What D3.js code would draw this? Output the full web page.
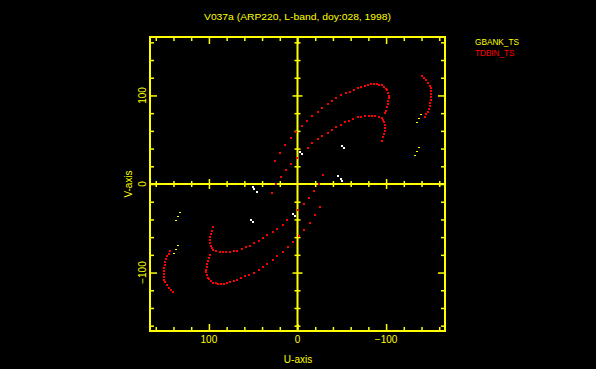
<!DOCTYPE html>
<html><head><meta charset="utf-8">
<script src="https://cdn.jsdelivr.net/npm/d3@7"></script>
<style>html,body{margin:0;padding:0;background:#000;}svg{display:block;}</style>
</head><body>
<svg id="c" width="596" height="369"></svg>
<script>
// ---------- DATA (u, v in kilo-wavelengths; conjugate points (-u,-v) are also plotted) ----------
const titleText = "V037a (ARP220, L-band, doy:028, 1998)";
const xLabel = "U-axis";
const yLabel = "V-axis";
const seriesNames = ["GBANK_TS", "TDBIN_TS"];
const majorTicks = [-100, 0, 100];
const majorTickLabels = ["\u2212100", "0", "100"];
const minorTicks = [-160,-140,-120,-100,-80,-60,-40,-20,0,20,40,60,80,100,120,140,160];

// TDBIN_TS track A (outer arc)
const tdbinTrackA = [
  [24.9,26.3],[20.1,35.3],[14.1,44.0],[7.6,51.6],[1.2,59.1],[-4.8,65.5],[-10.5,70.8],
  [-16.9,76.8],[-22.6,81.6],[-28.2,86.2],[-34.2,90.3],[-39.5,93.7],[-44.0,96.8],
  [-49.2,100.2],[-54.6,102.4],[-59.1,104.2],[-63.6,106.5],[-68.1,108.1],[-71.9,109.5],
  [-75.7,111.0],[-79.4,112.1],[-83.2,112.6],[-86.6,112.6],[-89.6,112.6],[-92.4,112.1],
  [-95.3,111.5],[-97.5,109.9],[-99.8,107.8],[-101.3,105.6],[-102.4,102.8],[-103.2,99.9],
  [-103.2,96.6],[-102.6,93.2],[-101.7,89.8],[-100.9,86.4],[-99.8,83.0],[-98.7,80.2]
];
// TDBIN_TS track B (inner arc)
const tdbinTrackB = [
  [-29.1,9.6],[-24.4,0.0],
  [18.9,7.6],[12.5,15.5],[6.8,22.6],[0.5,29.0],[-11.6,41.0],[-16.9,46.0],[-23.2,50.5],
  [-28.2,54.2],[-34.2,57.9],[-39.5,61.0],[-44.0,64.7],[-48.9,67.0],[-53.8,69.7],
  [-58.3,71.7],[-62.8,73.4],[-67.8,75.1],[-71.9,76.0],[-76.4,76.8],[-80.2,77.1],
  [-84.0,77.1],[-87.9,77.0],[-92.2,76.0],[-94.9,74.2],[-96.7,71.9],[-97.9,69.5],
  [-98.7,66.6],[-98.7,62.9],[-98.3,59.9],[-97.5,56.5],[-96.7,52.7],[-95.6,48.9]
];
// TDBIN_TS track C (far arc)
const tdbinTrackC = [
  [-140.8,122.0],[-143.3,119.7],[-145.6,117.1],[-147.6,114.4],[-149.2,111.2],
  [-150.3,108.1],[-151.0,104.8],[-151.0,101.6],[-151.0,98.2],[-150.7,94.9],
  [-149.9,91.5],[-149.2,87.9],[-148.2,84.7],[-146.9,81.6],[-145.6,78.7],[-143.9,75.7]
];
// GBANK_TS points
const gbankPoints = [
  [-139.0,78.7],[-137.1,73.7],[-134.5,69.7],[-137.4,41.0],[-134.8,36.9],[-132.2,32.7]
];
// unlabelled (white) points
const otherPoints = [
  [-2.5,36.7],[-4.8,34.4],[-50.6,43.3],[-52.9,40.7],[-46.1,8.7],[-48.6,6.2],[-50.4,3.7]
];

// ---------- CHART ----------
const svg = d3.select("#c");
svg.append("rect").attr("width",596).attr("height",369).attr("fill","#000");

const YEL = "#ffff00", RED = "#ff0000", WHITE = "#ffffff";
const pL = 150, pR = 445, pT = 37, pB = 331;
const x = d3.scaleLinear().domain([166.5, -166.5]).range([pL, pR]);
const y = d3.scaleLinear().domain([-166, 166]).range([pB, pT]);

const conj = pts => pts.concat(pts.map(([u, v]) => [-u, -v]));

const g = svg.append("g");

function styleAxis(sel) {
  sel.selectAll("path.domain").remove();
  sel.selectAll(".tick text").remove();
  sel.selectAll(".tick line").attr("stroke", YEL).attr("stroke-width", 1.5);
}
const minorOnly = minorTicks.filter(t => majorTicks.indexOf(t) < 0);

// frame ticks (inward)
const frame = [
  {ax: d3.axisTop, tr: `translate(0,${pB})`, s: x},
  {ax: d3.axisBottom, tr: `translate(0,${pT})`, s: x},
  {ax: d3.axisRight, tr: `translate(${pL},0)`, s: y},
  {ax: d3.axisLeft, tr: `translate(${pR},0)`, s: y}
];
frame.forEach(f => {
  g.append("g").attr("transform", f.tr)
    .call(f.ax(f.s).tickValues(minorOnly).tickSize(4).tickSizeOuter(0))
    .call(styleAxis);
  g.append("g").attr("transform", f.tr)
    .call(f.ax(f.s).tickValues(majorTicks).tickSize(7).tickSizeOuter(0))
    .call(styleAxis);
});

// central axes with centred ticks
g.append("line").attr("x1", pL).attr("x2", pR).attr("y1", y(0)).attr("y2", y(0))
  .attr("stroke", YEL).attr("stroke-width", 2);
g.append("line").attr("x1", x(0)).attr("x2", x(0)).attr("y1", pT).attr("y2", pB)
  .attr("stroke", YEL).attr("stroke-width", 2);
g.append("g").attr("transform", `translate(0,${y(0) - 3})`)
  .call(d3.axisBottom(x).tickValues(minorOnly).tickSize(6)).call(styleAxis);
g.append("g").attr("transform", `translate(0,${y(0) - 5})`)
  .call(d3.axisBottom(x).tickValues(majorTicks.filter(t => t !== 0)).tickSize(10)).call(styleAxis);
g.append("g").attr("transform", `translate(${x(0) - 3},0)`)
  .call(d3.axisRight(y).tickValues(minorOnly).tickSize(6)).call(styleAxis);
g.append("g").attr("transform", `translate(${x(0) - 5},0)`)
  .call(d3.axisRight(y).tickValues(majorTicks.filter(t => t !== 0)).tickSize(10)).call(styleAxis);

// frame box
g.append("rect").attr("x", pL).attr("y", pT).attr("width", pR - pL).attr("height", pB - pT)
  .attr("fill", "none").attr("stroke", YEL).attr("stroke-width", 2);

// tick labels
const font = "'Liberation Sans', Arial, sans-serif";
g.selectAll("text.xl").data(majorTicks).enter().append("text")
  .attr("x", d => x(d)).attr("y", 343).attr("text-anchor", "middle")
  .attr("font-family", font).attr("font-size", 10).attr("fill", YEL)
  .text((d, i) => majorTickLabels[i]);
g.selectAll("text.yl").data(majorTicks).enter().append("text")
  .attr("transform", d => `translate(145.5,${y(d)}) rotate(-90)`).attr("text-anchor", "middle")
  .attr("font-family", font).attr("font-size", 10).attr("fill", YEL)
  .text((d, i) => majorTickLabels[i]);

// axis titles
svg.append("text").attr("x", 298).attr("y", 363).attr("text-anchor", "middle")
  .attr("font-family", font).attr("font-size", 10).attr("fill", YEL).text(xLabel);
svg.append("text").attr("transform", `translate(131.5,${y(0)}) rotate(-90)`).attr("text-anchor", "middle")
  .attr("font-family", font).attr("font-size", 10).attr("fill", YEL).text(yLabel);

// title
svg.append("text").attr("x", 204).attr("y", 19.5)
  .attr("textLength", 187).attr("lengthAdjust", "spacingAndGlyphs")
  .attr("font-family", font).attr("font-size", 9.5).attr("fill", YEL).text(titleText);

// legend
svg.append("text").attr("x", 475).attr("y", 45).attr("textLength", 44).attr("lengthAdjust", "spacingAndGlyphs")
  .attr("font-family", font).attr("font-size", 9.5).attr("fill", YEL).text(seriesNames[0]);
svg.append("text").attr("x", 475).attr("y", 55.5).attr("textLength", 39.5).attr("lengthAdjust", "spacingAndGlyphs")
  .attr("font-family", font).attr("font-size", 9.5).attr("fill", RED).text(seriesNames[1]);

// points
function dots(pts, color, w, h) {
  g.append("g").selectAll("rect").data(conj(pts)).enter().append("rect")
    .attr("x", d => Math.round(x(d[0]) - w / 2)).attr("y", d => Math.round(y(d[1]) - h / 2))
    .attr("width", w).attr("height", h).attr("fill", color);
}
dots(tdbinTrackA, RED, 2, 2);
dots(tdbinTrackB, RED, 2, 2);
dots(tdbinTrackC, RED, 2, 2);
dots(gbankPoints, YEL, 2, 1);
dots(otherPoints, WHITE, 2, 2);
</script>
</body></html>
